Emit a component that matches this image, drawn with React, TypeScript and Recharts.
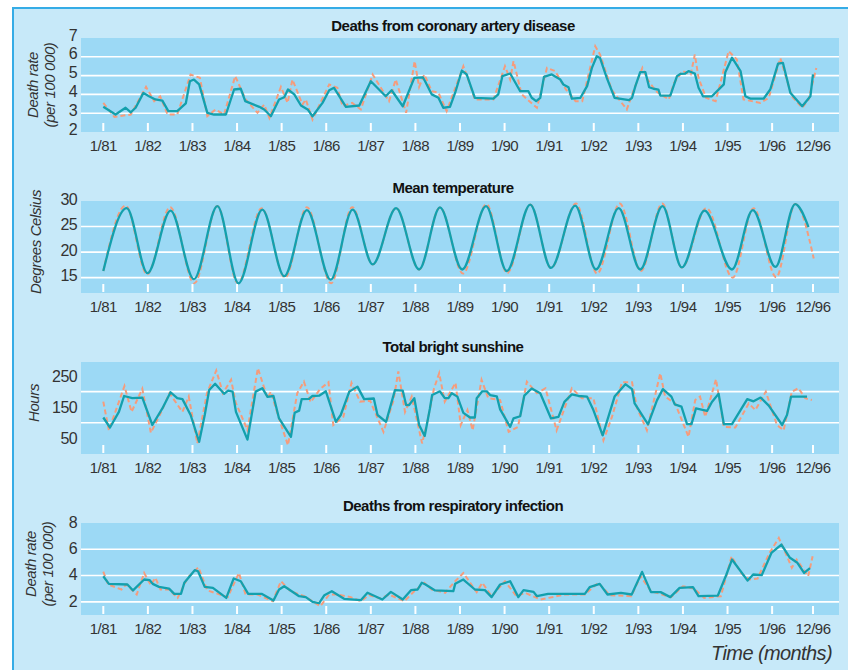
import React from "react";
import { LineChart, Line, XAxis, YAxis, CartesianGrid, ReferenceLine } from "recharts";

type Pt = [number, number];

// months since 1/81
const yearTicks = [0, 12, 24, 36, 48, 60, 72, 84, 96, 108, 120, 132, 144, 156, 168, 180, 191];
const yearLabels = [
  "1/81", "1/82", "1/83", "1/84", "1/85", "1/86", "1/87", "1/88", "1/89",
  "1/90", "1/91", "1/92", "1/93", "1/94", "1/95", "1/96", "12/96",
];

// coronary artery disease, death rate per 100 000
const cadFit: Pt[] = [
  [0, 3.34], [3.3, 2.93], [6, 3.29], [7.4, 3.05], [8.7, 3.29], [10.8, 4.08], [12.3, 3.9], [14, 3.73],
  [15.9, 3.67], [17.5, 3.11], [19.9, 3.11], [22.2, 3.52], [23.3, 4.7], [24.4, 4.79], [25.8, 4.53],
  [28, 3.02], [29.8, 2.93], [33, 2.93], [35.2, 4.26], [37, 4.3], [38.2, 3.64], [42, 3.34], [43.3, 3.2],
  [45.1, 2.84], [47.3, 3.73], [48.7, 3.85], [49.7, 4.26], [51.4, 4.0], [53.2, 3.41], [55, 3.2],
  [56.3, 2.84], [59, 3.55], [60.8, 4.22], [62.1, 4.35], [65.3, 3.34], [68.9, 3.41], [72, 4.7],
  [76, 3.9], [77.6, 4.22], [80.6, 3.37], [83.7, 4.88], [86, 4.91], [86.6, 4.7], [88.4, 4.0],
  [90.2, 3.82], [91.5, 3.29], [93.3, 3.34], [94.7, 4.09], [96.5, 5.27], [97.8, 5.06], [100, 3.82],
  [105, 3.77], [106.3, 4.0], [107.4, 4.97], [109.5, 5.11], [112.2, 4.17], [114.4, 4.17], [115.3, 3.82],
  [116.5, 3.64], [117.6, 3.82], [118.6, 4.93], [120.7, 5.06], [123, 4.79], [123.8, 4.53], [125.2, 4.38],
  [126.1, 3.77], [128.4, 3.82], [130.2, 4.44], [131.5, 5.41], [132.8, 6.03], [133.7, 5.93], [135.5, 4.88],
  [137.6, 3.82], [141.5, 3.69], [142.3, 3.82], [143.2, 4.44], [144.5, 5.18], [145.9, 5.18], [146.9, 4.38],
  [148.1, 4.3], [149.4, 4.26], [149.9, 3.94], [152.6, 3.94], [154.4, 4.97], [155.3, 5.09], [156.6, 5.11],
  [157.5, 5.24], [159.2, 5.11], [160.2, 4.35], [161.4, 3.9], [163.8, 3.9], [167, 4.53], [167.4, 5.18],
  [169.2, 5.95], [170.1, 5.68], [171.5, 5.24], [172.8, 3.9], [174.2, 3.77], [177.7, 3.77], [179.5, 4.26],
  [181.6, 5.64], [182.9, 5.68], [184.9, 4.09], [188.1, 3.37], [190.3, 3.9], [191, 5.06],
];
const cadObs: Pt[] = [
  [0, 3.55], [3, 2.8], [7.4, 2.93], [11.5, 4.4], [13.7, 3.64], [15.3, 3.9], [17.3, 2.93], [19.9, 2.93],
  [23.5, 5.06], [26, 4.88], [28, 2.84], [30.2, 3.2], [32.5, 2.93], [35.5, 4.97], [38.3, 3.73], [41.5, 3.02],
  [43.3, 3.46], [44.7, 2.75], [47.8, 4.4], [49.6, 3.55], [50.9, 4.79], [53.6, 3.46], [54.5, 3.73],
  [56.3, 2.66], [60.8, 4.53], [63, 4.35], [64.4, 3.37], [67, 3.55], [69.3, 3.2], [72.5, 5.06], [76.9, 3.64],
  [78.7, 4.79], [81.5, 3.02], [83.8, 5.77], [85, 4.4], [86.4, 5.06], [88.4, 4.17], [90.2, 4.09],
  [92.4, 3.11], [96.9, 5.5], [98.2, 4.79], [100, 3.73], [105, 3.73], [108.1, 5.5], [109.5, 4.79],
  [110.4, 5.77], [112.6, 4.0], [116.7, 3.29], [119.4, 5.41], [121.6, 5.24], [124.5, 4.26], [127.1, 3.64],
  [128.9, 3.64], [132.4, 6.56], [133.7, 6.12], [136.8, 4.26], [138.8, 3.73], [140.9, 3.2], [142.8, 4.26],
  [145.1, 5.41], [146.5, 4.79], [148.7, 4.17], [152.2, 3.73], [153.6, 4.61], [155.9, 5.24], [158.1, 5.06],
  [159.2, 6.12], [160.2, 4.88], [162.2, 3.82], [164.8, 3.64], [168.3, 6.3], [170.5, 5.86], [172.3, 3.73],
  [176.8, 3.55], [179.1, 3.82], [182.2, 5.93], [185.3, 3.9], [188.1, 3.29], [189.8, 3.73], [191.9, 5.41],
];

// mean temperature, degrees Celsius
const tempFit: Pt[] = [
  [0, 16.3], [6.3, 28.6], [11.9, 15.9], [18.1, 28.1], [24.4, 14.7], [30.7, 29.0], [36.4, 13.9],
  [42.8, 28.3], [48.7, 15.3], [54.8, 28.2], [61.2, 14.6], [67.1, 28.3], [72.5, 17.6], [78.8, 28.6],
  [85, 16.6], [90.6, 28.75], [96.6, 16.6], [103, 29.0], [108.6, 16.3], [114.9, 29.3], [120.5, 16.9],
  [127, 29.1], [132.6, 16.6], [138.7, 28.6], [144.5, 16.6], [150.5, 29.0], [155.7, 17.0], [161.8, 28.1],
  [169.2, 16.6], [174.8, 28.2], [180.9, 17.1], [186.2, 29.4], [189.8, 24.9],
];
const tempObs: Pt[] = [
  [0, 16.3], [6.0, 29.1], [11.8, 15.65], [18.0, 28.8], [24.5, 13.9], [30.7, 29.0], [36.2, 13.9],
  [42.6, 28.6], [48.9, 15.0], [54.8, 28.8], [61.3, 13.9], [67.0, 28.8], [72.5, 17.6], [78.8, 28.6],
  [85, 16.6], [90.6, 28.75], [96.8, 15.8], [103.1, 29.4], [108.7, 15.9], [114.9, 29.3], [120.5, 16.9],
  [127.2, 29.5], [132.9, 15.8], [139, 29.5], [144.7, 16.3], [150.4, 29.5], [155.7, 17.0], [162.3, 28.6],
  [169.4, 15.0], [175, 28.6], [181.1, 15.1], [186.2, 29.4], [191.2, 18.75],
];

// total bright sunshine, hours
const sunFit: Pt[] = [
  [0, 117], [1.8, 85], [4.2, 135], [5.6, 186], [7.8, 179], [10.5, 181], [13.2, 93], [15.9, 146],
  [18.1, 198], [19.9, 179], [21.3, 176], [23.5, 125], [25.8, 39], [27.3, 125], [28.5, 205], [30.1, 225],
  [32.5, 193], [33.6, 203], [34.8, 200], [35.7, 135], [38.8, 46], [41, 200], [42.8, 211], [44.2, 183],
  [45.8, 186], [47.3, 114], [50.5, 55], [51.5, 132], [52.7, 139], [53.4, 176], [55.4, 177], [56.3, 186],
  [58.1, 187], [59.9, 201], [62.6, 103], [63.9, 125], [66.2, 200], [68.4, 216], [70.2, 176], [72.8, 178],
  [73.8, 125], [76.1, 103], [78.5, 205], [80.6, 203], [81.5, 157], [82.3, 157], [83.7, 179], [85, 93],
  [86.5, 58], [87.9, 146], [88.5, 189], [90.6, 201], [91.9, 179], [92.9, 179], [93.8, 195], [95.3, 184],
  [96.9, 132], [98.7, 117], [100, 117], [100.5, 179], [102, 201], [103.2, 201], [104.1, 189], [105.9, 185],
  [106.8, 143], [109.5, 87], [110.4, 114], [112.2, 121], [113.3, 187], [115.3, 210], [117.6, 195],
  [120.5, 114], [122.5, 119], [124.1, 167], [126.1, 191], [127.9, 186], [130.2, 184], [131.9, 141],
  [134.4, 60], [137.6, 184], [140.5, 224], [142.3, 208], [143, 162], [146.6, 95], [149, 172], [150.6, 208],
  [152.9, 184], [153.8, 159], [155.6, 152], [157.1, 96], [158.3, 96], [159.5, 146], [162.5, 138],
  [163.8, 167], [165.6, 193], [167, 96], [169.2, 96], [173.3, 176], [175, 169], [176.9, 181], [179.1, 155],
  [182.7, 93], [184, 125], [185.1, 184], [189.4, 184],
];
const sunObs: Pt[] = [
  [0, 168], [1.5, 76], [5.7, 218], [7.6, 135], [10.5, 209], [12.8, 68], [15.6, 135], [17.8, 195],
  [21.3, 135], [23, 184], [25.3, 34], [27.9, 195], [30.4, 268], [32.2, 195], [34.4, 238], [35.6, 166],
  [38.8, 77], [41.6, 275], [44.2, 179], [45.1, 200], [47, 125], [49.7, 28], [52.2, 195], [54, 232],
  [55.8, 166], [58.4, 209], [60.6, 230], [61.9, 93], [64.6, 119], [66.8, 228], [69.1, 168], [71.8, 171],
  [75.4, 71], [78.1, 172], [79.4, 265], [81.2, 135], [83, 184], [85.8, 34], [87.2, 103], [89, 210],
  [90.4, 259], [91.9, 168], [94.8, 228], [96.2, 93], [98, 141], [99.4, 76], [101.8, 238], [103.6, 179],
  [106.8, 173], [109.1, 71], [111.6, 87], [114, 232], [116.7, 195], [119, 211], [122, 76], [126.1, 211],
  [128.8, 179], [131.9, 179], [134.6, 44], [136.9, 119], [139.6, 230], [142.3, 230], [143.6, 149],
  [146.3, 76], [149.9, 259], [151.2, 184], [153.9, 162], [157.5, 55], [159.3, 173], [160.6, 184],
  [162, 119], [164.9, 240], [167, 87], [170.1, 85], [173.7, 162], [175.5, 141], [178.3, 200], [181.3, 93],
  [183.1, 76], [185.3, 200], [187.1, 211], [188.9, 179], [190.7, 173],
];

// respiratory infection, death rate per 100 000
const respFit: Pt[] = [
  [0, 3.95], [1.5, 3.37], [6.5, 3.32], [8, 2.87], [11, 3.7], [12.5, 3.65], [13.3, 3.37], [15, 3.14],
  [17.7, 3.01], [19.1, 2.61], [20.9, 2.61], [21.8, 3.45], [24.6, 4.41], [25.5, 4.33], [27.3, 3.14],
  [29.5, 3.06], [33.1, 2.3], [35.1, 3.78], [37, 3.57], [39, 2.61], [42.6, 2.61], [45.8, 2.1], [47.3, 2.94],
  [48.7, 3.19], [52.7, 2.43], [54.5, 2.36], [56.3, 2.0], [58.1, 1.9], [59.5, 2.51], [61.5, 2.81],
  [64.8, 2.23], [69.3, 2.13], [71.1, 2.69], [75.1, 2.18], [77.4, 2.76], [80.6, 2.18], [82.8, 2.89],
  [84.6, 2.94], [85.7, 3.45], [86.6, 3.34], [89.3, 2.87], [94.2, 2.81], [94.7, 3.37], [96.9, 3.7],
  [100, 2.94], [102.7, 2.89], [104.5, 2.36], [106.8, 3.32], [109.5, 3.57], [111.7, 2.36], [113.1, 2.89],
  [115.8, 2.76], [116.7, 2.43], [119.7, 2.61], [129.6, 2.61], [130.9, 3.12], [133.6, 3.37], [135.7, 2.56],
  [139.3, 2.69], [142.2, 2.56], [145, 4.28], [147.4, 2.74], [150, 2.74], [152.6, 2.36], [155.1, 3.06],
  [158.7, 3.12], [160.2, 2.43], [165.4, 2.48], [167.7, 4.08], [169.2, 5.22], [173.4, 3.62], [174.9, 4.08],
  [177.2, 4.03], [179.8, 5.72], [182.5, 6.36], [184.8, 5.35], [186.8, 4.97], [188.6, 4.2], [190.2, 4.56],
];
const respObs: Pt[] = [
  [0, 4.3], [1.3, 3.32], [4.9, 2.94], [6.2, 3.32], [9, 2.56], [11, 4.2], [12.8, 3.27], [14, 3.83],
  [15.4, 2.94], [17.7, 2.94], [20, 2.3], [22.7, 3.83], [25.6, 4.63], [28, 2.87], [33.5, 2.36], [36.5, 4.2],
  [38.3, 2.56], [41.5, 2.56], [45.6, 2.05], [47.8, 3.57], [50.4, 2.81], [54.1, 2.43], [58.4, 1.67],
  [60.8, 2.56], [63, 2.56], [66.6, 2.36], [69.3, 2.05], [71.5, 2.51], [74.7, 2.25], [76.9, 2.56],
  [81, 2.05], [83.7, 2.81], [86.4, 3.45], [88.4, 2.94], [92, 2.69], [94.7, 3.57], [96.9, 4.2],
  [100.5, 2.74], [102, 3.45], [104.5, 2.43], [108.1, 3.57], [111.2, 2.43], [113.5, 2.69], [117.6, 2.18],
  [124.4, 2.56], [129.6, 2.56], [133.2, 3.45], [136.3, 2.51], [142.1, 2.43], [144.6, 3.95], [147.4, 2.81],
  [152.8, 2.36], [156, 3.19], [159, 3.01], [161.7, 2.3], [166.2, 2.43], [169.1, 5.47], [171.6, 4.2],
  [173.9, 3.7], [176.1, 3.78], [179.3, 5.72], [181.8, 6.86], [183.8, 5.6], [185.3, 4.59], [186.6, 5.22],
  [189.7, 3.95], [190.9, 5.47],
];

const FONT = "'Liberation Sans', Arial, Helvetica, sans-serif";
const TEAL = "#13a0ad";
const ORANGE = "#f59c7c";
const PLOT_BG = "#9cd9f5";
const FRAME_BG = "#c7e9f9";
const TEXT = "#333";

const toRows = (pts: Pt[]) => pts.map(([m, v]) => ({ m, v }));

const YearTick = (props: any) => {
  const { x, y, payload } = props;
  const i = yearTicks.indexOf(payload.value);
  return (
    <g>
      <line x1={x} x2={x} y1={y - 9} y2={y - 1} stroke="#fff" strokeWidth={2} />
      <text x={x} y={y + 18.5} textAnchor="middle" fontSize={15} letterSpacing={-0.5} fill={TEXT} fontFamily={FONT}>
        {yearLabels[i]}
      </text>
    </g>
  );
};

type PanelProps = {
  top: number;
  height: number;
  plotTop: number;
  domain: [number, number];
  ticks: number[];
  grid: number[];
  fit: Pt[];
  obs: Pt[];
  smooth?: boolean;
  tickDy?: number;
};

const Panel = ({ top, height, plotTop, domain, ticks, grid, fit, obs, smooth, tickDy = 0 }: PanelProps) => {
  const kind = smooth ? "monotone" : "linear";
  return (
    <div style={{ position: "absolute", left: 0, top }}>
      <LineChart width={848} height={height} margin={{ top: plotTop, right: 9, bottom: 0, left: 41 }}>
        <CartesianGrid fill={PLOT_BG} fillOpacity={1} horizontal={false} vertical={false} stroke="none" />
        <XAxis
          dataKey="m"
          type="number"
          domain={[-6, 198]}
          ticks={yearTicks}
          interval={0}
          allowDataOverflow
          axisLine={false}
          tickLine={false}
          tickSize={0}
          tickMargin={0}
          height={30}
          tick={(p: any) => <YearTick {...p} />}
        />
        <YAxis
          type="number"
          domain={domain}
          ticks={ticks}
          interval={0}
          allowDataOverflow
          width={40}
          axisLine={false}
          tickLine={false}
          tickSize={0}
          tickMargin={4}
          tick={{ fontSize: 16, fill: TEXT, fontFamily: FONT, dy: tickDy, letterSpacing: -0.6 }}
        />
        {grid.map((g) => (
          <ReferenceLine key={g} y={g} stroke="#fff" strokeWidth={1.6} />
        ))}
        <Line
          data={toRows(obs)}
          dataKey="v"
          type={kind}
          stroke={ORANGE}
          strokeWidth={2}
          strokeDasharray="5 3"
          dot={false}
          isAnimationActive={false}
        />
        <Line
          data={toRows(fit)}
          dataKey="v"
          type={kind}
          stroke={TEAL}
          strokeWidth={2.3}
          strokeLinejoin="round"
          dot={false}
          isAnimationActive={false}
        />
      </LineChart>
    </div>
  );
};

const Title = ({ y, children }: { y: number; children: React.ReactNode }) => (
  <div
    style={{
      position: "absolute",
      left: 453,
      top: y,
      transform: "translate(-50%, -50%)",
      whiteSpace: "nowrap",
      fontWeight: "bold",
      fontSize: 15,
      letterSpacing: -0.5,
      color: "#111",
      lineHeight: 1,
    }}
  >
    {children}
  </div>
);

const AxisTitle = ({ x, y, children }: { x: number; y: number; children: React.ReactNode }) => (
  <div
    style={{
      position: "absolute",
      left: x,
      top: y,
      transform: "translate(-50%, -50%) rotate(-90deg)",
      whiteSpace: "nowrap",
      fontStyle: "italic",
      fontSize: 15,
      letterSpacing: -0.4,
      color: TEXT,
      lineHeight: 1,
    }}
  >
    {children}
  </div>
);

export default function App() {
  return (
    <div
      style={{
        position: "absolute",
        left: 0,
        top: 0,
        width: 848,
        height: 670,
        background: "#fff",
        fontFamily: FONT,
        overflow: "hidden",
      }}
    >
      <div
        style={{
          position: "absolute",
          left: 12,
          top: 7,
          width: 836,
          height: 663,
          boxSizing: "border-box",
          background: FRAME_BG,
          borderLeft: "2px solid #35ace6",
          borderTop: "2px solid #35ace6",
        }}
      />
      <Panel top={0} height={162} plotTop={38} domain={[2, 7]} ticks={[2, 3, 4, 5, 6, 7]} grid={[3, 4, 5, 6]}
        fit={cadFit} obs={cadObs} tickDy={-3} />
      <Panel top={170} height={153} plotTop={31} domain={[12, 30]} ticks={[15, 20, 25, 30]} grid={[15, 20, 25]}
        fit={tempFit} obs={tempObs} smooth tickDy={-2} />
      <Panel top={330} height={154} plotTop={32} domain={[0, 295]} ticks={[50, 150, 250]} grid={[100, 200]}
        fit={sunFit} obs={sunObs} />
      <Panel top={490} height={155} plotTop={33} domain={[1, 8]} ticks={[2, 4, 6, 8]} grid={[2, 4, 6]}
        fit={respFit} obs={respObs} tickDy={-1} />

      <Title y={25}>Deaths from coronary artery disease</Title>
      <Title y={187}>Mean temperature</Title>
      <Title y={346}>Total bright sunshine</Title>
      <Title y={505}>Deaths from respiratory infection</Title>

      <AxisTitle x={32} y={85}>Death rate</AxisTitle>
      <AxisTitle x={49} y={85}>(per 100 000)</AxisTitle>
      <AxisTitle x={35} y={242}>Degrees Celsius</AxisTitle>
      <AxisTitle x={33} y={403}>Hours</AxisTitle>
      <AxisTitle x={30} y={564}>Death rate</AxisTitle>
      <AxisTitle x={47} y={564}>(per 100 000)</AxisTitle>

      <div
        style={{
          position: "absolute",
          left: 832,
          top: 653,
          transform: "translate(-100%, -50%)",
          whiteSpace: "nowrap",
          fontStyle: "italic",
          fontSize: 20,
          letterSpacing: -0.6,
          color: TEXT,
          lineHeight: 1,
        }}
      >
        Time (months)
      </div>
    </div>
  );
}
